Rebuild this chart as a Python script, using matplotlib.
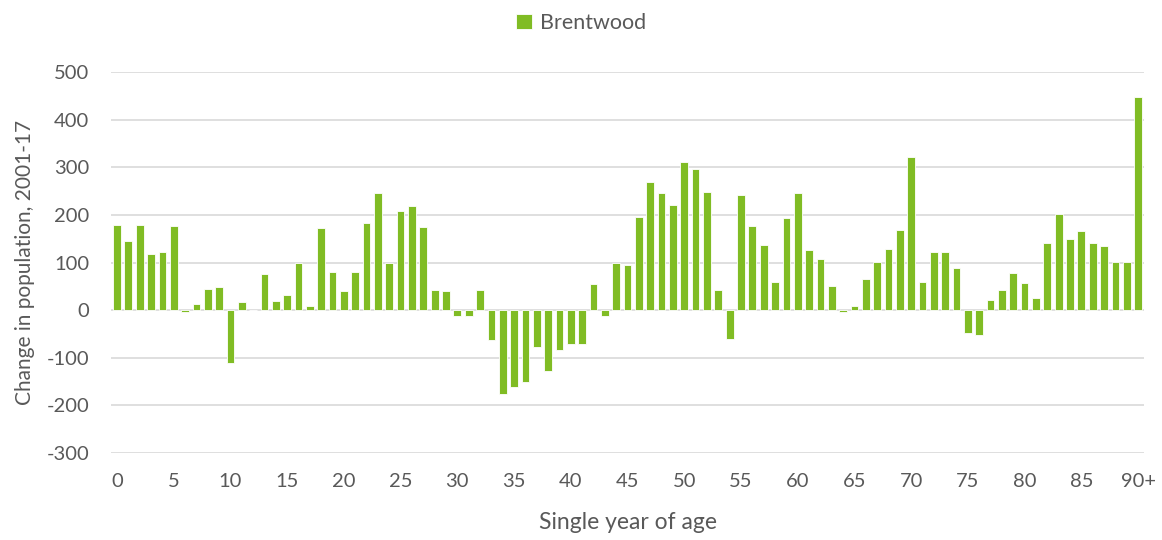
import matplotlib.pyplot as plt
import numpy as np

# Change in population by single year of age, 2001-17 (Brentwood)
ages = list(range(91))
change = [178, 146, 178, 117, 123, 176, -3, 13, 45, 48,
          -111, 18, 0, 75, 20, 32, 99, 8, 173, 80,
          41, 80, 183, 245, 100, 208, 219, 174, 43, 41,
          -12, -12, 43, -62, -175, -161, -150, -78, -128, -83,
          -71, -72, 55, -13, 100, 95, 195, 268, 245, 221,
          311, 297, 248, 43, -60, 241, 176, 136, 60, 193,
          245, 126, 107, 50, -4, 8, 65, 102, 129, 169,
          322, 60, 122, 122, 89, -48, -53, 22, 43, 79,
          58, 25, 140, 201, 149, 167, 142, 134, 102, 102,
          448]
tick_pos = list(range(0, 91, 5))
tick_labels = [str(t) for t in range(0, 90, 5)] + ['90+']

green = '#80BC24'
text_col = '#595959'
plt.rcParams['font.family'] = ['Lato', 'DejaVu Sans']
plt.rcParams['axes.unicode_minus'] = False

fig = plt.figure(figsize=(11.62, 5.4), dpi=100)
ax = fig.add_axes([0.0958, 0.161, 0.8885, 0.7057])

ax.bar(ages, change, width=0.68, color=green, edgecolor='white', linewidth=0.6,
       label='Brentwood', zorder=3)

ax.set_xlim(-0.5, 90.5)
ax.set_ylim(-300, 500)
ax.set_yticks(range(-300, 501, 100))
ax.set_xticks(tick_pos)
ax.set_xticklabels(tick_labels)
ax.yaxis.grid(True, color='#D9D9D9', linewidth=1.2, zorder=0)
ax.set_axisbelow(True)
for s in ax.spines.values():
    s.set_visible(False)
ax.tick_params(axis='both', length=0, labelsize=14.5, colors=text_col)
ax.tick_params(axis='x', pad=14)
ax.tick_params(axis='y', pad=16)

ax.set_xlabel('Single year of age', fontsize=16.5, color=text_col, labelpad=16)
ax.set_ylabel('Change in population, 2001-17', fontsize=15, color=text_col, labelpad=8)

leg = fig.legend(loc='upper center', bbox_to_anchor=(0.5, 1.012), frameon=False,
                 fontsize=15.5, handlelength=0.75, handleheight=0.75, handletextpad=0.4)
for t in leg.get_texts():
    t.set_color(text_col)

fig.savefig('out.png', dpi=100)
